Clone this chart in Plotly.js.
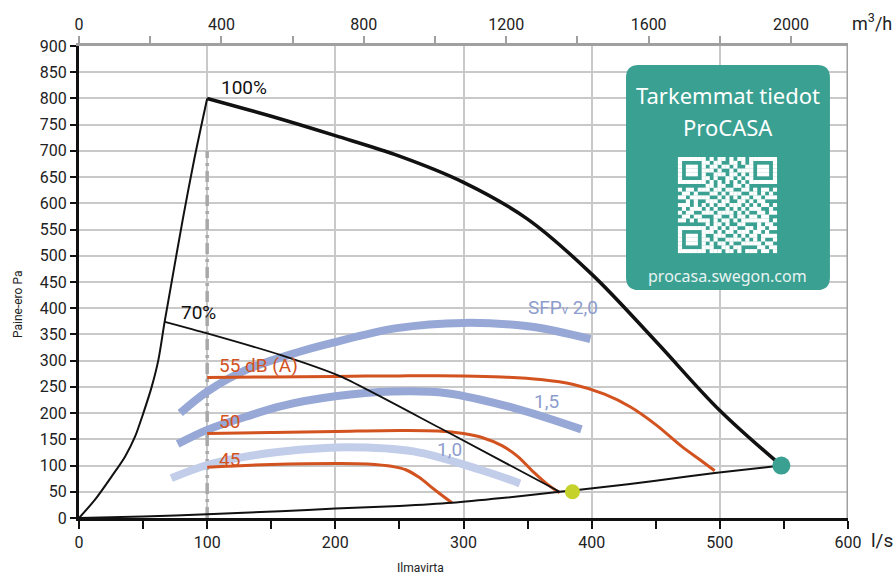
<!DOCTYPE html>
<html>
<head>
<meta charset="utf-8">
<script src="https://cdn.plot.ly/plotly-3.0.1.min.js"></script>
<style>
  html, body { margin: 0; padding: 0; background: #ffffff; }
  #chart { width: 894px; height: 576px; }
</style>
</head>
<body>
<div id="chart"></div>
<script>
// ---- Data, airflow in l/s, pressure in Pa ----
// Fan curve at 100 % (left limit curve + top curve)
const limitLeftX = [0, 12.5, 25.4, 35.9, 43.7, 50.2, 56.7, 61.9, 66.6, 69.7, 81, 90, 100];
const limitLeftY = [0, 35, 79, 117, 155, 200, 250, 301, 371, 414, 570, 685, 800];
const fan100X = [100, 150, 200, 250, 300, 350, 400, 450, 500, 548];
const fan100Y = [800, 766, 729, 690, 640, 570, 465, 337, 205, 100];
// Fan curve at 70 %
const fan70X = [67, 100, 157, 204, 282, 375];
const fan70Y = [374, 352, 311, 270, 171, 50];
// System curve
const systemX = [0, 50, 100, 157, 200, 250, 291, 330, 375, 406, 450, 496, 548];
const systemY = [0, 3, 7, 13, 18, 23, 29, 38, 50, 58, 71, 86, 100];
// Sound level curves, dB(A)
const db55X = [100, 150, 200, 250, 300, 330, 360, 385, 410, 430, 450, 470, 485, 496];
const db55Y = [268, 269, 270, 271, 271, 269, 264, 255, 236, 212, 178, 137, 110, 90];
const db50X = [100, 150, 200, 250, 280, 300, 315, 330, 342, 354, 365, 375];
const db50Y = [161, 163, 165, 167, 166, 161, 153, 138, 118, 89, 65, 48];
const db45X = [100, 150, 200, 225, 245, 255, 265, 278, 291];
const db45Y = [97, 102, 104, 103, 98, 92, 78, 53, 29];
// SFPv curves
const sfp20X = [79, 100, 130, 172, 196, 248, 300, 352, 399];
const sfp20Y = [200, 241, 282, 317, 333, 362, 372, 365, 341];
const sfp15X = [77, 100, 130, 157, 200, 245, 287, 339, 392];
const sfp15Y = [141, 168, 193, 213, 232, 241, 238, 210, 169];
const sfp10X = [72, 100, 130, 172, 209, 261, 313, 344];
const sfp10Y = [76, 101, 117, 130, 135, 127, 92, 66];
// Operating points
const pointMaxX = [548];
const pointMaxY = [100];
const pointOpX = [385];
const pointOpY = [50];
// Nominal reference airflow line
const refLineX = [100, 100];
const refLineY = [0, 700];
// Axis ticks
const lsTicks = [0, 100, 200, 300, 400, 500, 600];
const m3hTicks = [0, 400, 800, 1200, 1600, 2000];
const paTicks = [0, 50, 100, 150, 200, 250, 300, 350, 400, 450, 500, 550, 600, 650, 700, 750, 800, 850, 900];

// Decorative QR-like pattern (1 = light module)
const qrRows = [
  "1111111010110101101111111",
  "1000001101100110101000001",
  "1011101011011010011011101",
  "1011101110100101111011101",
  "1011101001110110101011101",
  "1000001101001101011000001",
  "1111111010101010101111111",
  "0000000110110011010000000",
  "1011011101101100110101101",
  "0110100011010111001101010",
  "1101111100101010110110111",
  "0010100111011001101011000",
  "1110101010110111010101101",
  "0101110101001010101110010",
  "1011001110111101010011011",
  "0110110001100101101101100",
  "1101011101011010111111101",
  "0000000101101001100010110",
  "1111111011010110011011011",
  "1000001110101101110110100",
  "1011101001110010101101111",
  "1011101101001111010101001",
  "1011101010110100111110110",
  "1000001110011011000011011",
  "1111111011101101011101101"
];

const FONT = 'Roboto, "Noto Sans", sans-serif';
const ORANGE = '#d2531f';
const BLUE = '#97a8d6';
const BLUE_LIGHT = '#c2cdea';
const BLUE_TEXT = '#8d9dcd';
const TEAL = '#3aa091';

function line(x, y, color, width, smoothing) {
  return {
    type: 'scatter', mode: 'lines', x: x, y: y,
    line: { color: color, width: width, shape: 'spline', smoothing: smoothing === undefined ? 1 : smoothing },
    hoverinfo: 'skip', showlegend: false
  };
}

const traces = [
  { type: 'scatter', mode: 'lines', x: refLineX, y: refLineY, hoverinfo: 'skip', showlegend: false,
    line: { color: '#a8a8a8', width: 3.5, dash: '11px,5px,3px,5px' } },
  line(sfp20X, sfp20Y, BLUE, 8),
  line(sfp15X, sfp15Y, BLUE, 8),
  line(sfp10X, sfp10Y, BLUE_LIGHT, 8),
  line(db55X, db55Y, ORANGE, 3),
  line(db50X, db50Y, ORANGE, 3),
  line(db45X, db45Y, ORANGE, 3),
  line(limitLeftX, limitLeftY, '#111111', 2, 0.8),
  line(fan100X, fan100Y, '#111111', 3.5, 1),
  line(fan70X, fan70Y, '#111111', 1.8, 0.6),
  line(systemX, systemY, '#111111', 2, 0.6),
  { type: 'scatter', mode: 'markers', x: pointOpX, y: pointOpY,
    marker: { color: '#c4d22b', size: 15 }, hoverinfo: 'skip', showlegend: false },
  { type: 'scatter', mode: 'markers', x: pointMaxX, y: pointMaxY,
    marker: { color: TEAL, size: 18 }, hoverinfo: 'skip', showlegend: false }
];

// rounded info box path in data coordinates
const bx0 = 426.8, bx1 = 585.9, by0 = 434.8, by1 = 863.8, rx = 10, ry = 24;
const boxPath = 'M ' + (bx0 + rx) + ',' + by1 +
  ' L ' + (bx1 - rx) + ',' + by1 + ' Q ' + bx1 + ',' + by1 + ' ' + bx1 + ',' + (by1 - ry) +
  ' L ' + bx1 + ',' + (by0 + ry) + ' Q ' + bx1 + ',' + by0 + ' ' + (bx1 - rx) + ',' + by0 +
  ' L ' + (bx0 + rx) + ',' + by0 + ' Q ' + bx0 + ',' + by0 + ' ' + bx0 + ',' + (by0 + ry) +
  ' L ' + bx0 + ',' + (by1 - ry) + ' Q ' + bx0 + ',' + by1 + ' ' + (bx0 + rx) + ',' + by1 + ' Z';

const shapes = [
  { type: 'line', xref: 'x', yref: 'y', x0: 600, x1: 600, y0: 0, y1: 900,
    line: { color: '#a0a0a0', width: 3 }, layer: 'above' },
  { type: 'path', xref: 'x', yref: 'y', path: boxPath,
    fillcolor: TEAL, line: { width: 0 }, layer: 'above' }
];

// QR-like decoration drawn as small rectangles inside the info box
const qrX0 = 467.3, qrY0 = 688.4, qrW = 77.2, qrH = 183;
const n = qrRows.length, mw = qrW / n, mh = qrH / n;
qrRows.forEach((row, i) => {
  for (let j = 0; j < row.length; j++) {
    if (row[j] === '1') {
      shapes.push({ type: 'rect', xref: 'x', yref: 'y',
        x0: qrX0 + j * mw, x1: qrX0 + (j + 1) * mw + 0.15,
        y0: qrY0 - (i + 1) * mh - 0.3, y1: qrY0 - i * mh,
        fillcolor: '#ffffff', line: { width: 0 }, layer: 'above' });
    }
  }
});

const annFont = (size, color) => ({ family: FONT, size: size, color: color });
const px = (x) => (x - 79) / 769;
const py = (y) => (518 - y) / 472;

const layout = {
  width: 894, height: 576,
  margin: { l: 79, r: 46, t: 46, b: 58 },
  paper_bgcolor: '#ffffff', plot_bgcolor: '#ffffff',
  font: { family: FONT, size: 16, color: '#222222' },
  showlegend: false,
  xaxis: {
    range: [0, 600], tickvals: lsTicks, ticktext: lsTicks.map(String),
    ticks: 'outside', ticklen: 8, tickwidth: 2, tickcolor: '#111111',
    minor: { dtick: 50, tick0: 0, ticks: 'outside', ticklen: 8, tickwidth: 2, tickcolor: '#111111', showgrid: false },
    showgrid: true, gridcolor: '#c9c9c9', gridwidth: 2,
    showline: true, linecolor: '#111111', linewidth: 3, zeroline: false,
    tickfont: { family: FONT, size: 16, color: '#222222' }, fixedrange: true
  },
  xaxis2: {
    overlaying: 'x', side: 'top', anchor: 'y',
    range: [0, 2160], tickvals: m3hTicks, ticktext: m3hTicks.map(String),
    ticks: 'outside', ticklen: 7, tickwidth: 2, tickcolor: '#a0a0a0',
    minor: { dtick: 200, tick0: 0, ticks: 'outside', ticklen: 7, tickwidth: 2, tickcolor: '#a0a0a0', showgrid: false },
    showgrid: false, showline: true, linecolor: '#a0a0a0', linewidth: 3, zeroline: false,
    tickfont: { family: FONT, size: 16, color: '#222222' }, fixedrange: true
  },
  yaxis: {
    range: [0, 900], tickvals: paTicks, ticktext: paTicks.map(String),
    ticks: 'outside', ticklen: 6, tickwidth: 2, tickcolor: '#111111',
    showgrid: true, gridcolor: '#c9c9c9', gridwidth: 2,
    showline: true, linecolor: '#111111', linewidth: 3, zeroline: false,
    tickfont: { family: FONT, size: 16, color: '#222222' }, fixedrange: true
  },
  shapes: shapes,
  annotations: [
    { text: '100%', x: 109, y: 821, xref: 'x', yref: 'y', xanchor: 'left', yanchor: 'middle', showarrow: false, font: annFont(19, '#111111') },
    { text: '70%', x: 78, y: 391, xref: 'x', yref: 'y', xanchor: 'left', yanchor: 'middle', showarrow: false, font: annFont(19, '#111111') },
    { text: '55 dB (A)', x: 108, y: 291, xref: 'x', yref: 'y', xanchor: 'left', yanchor: 'middle', showarrow: false, font: annFont(19, ORANGE) },
    { text: '50', x: 108, y: 184, xref: 'x', yref: 'y', xanchor: 'left', yanchor: 'middle', showarrow: false, font: annFont(19, ORANGE) },
    { text: '45', x: 108, y: 111, xref: 'x', yref: 'y', xanchor: 'left', yanchor: 'middle', showarrow: false, font: annFont(19, ORANGE) },
    { text: 'SFP<span style="font-size:13px">v</span> 2,0', x: 349, y: 402, xref: 'x', yref: 'y', xanchor: 'left', yanchor: 'middle', showarrow: false, font: annFont(19, BLUE_TEXT) },
    { text: '1,5', x: 365, y: 222, xref: 'x', yref: 'y', xanchor: 'center', yanchor: 'middle', showarrow: false, font: annFont(19, BLUE_TEXT) },
    { text: '1,0', x: 289, y: 131, xref: 'x', yref: 'y', xanchor: 'center', yanchor: 'middle', showarrow: false, font: annFont(19, BLUE_TEXT) },
    { text: 'Tarkemmat tiedot', x: 506.3, y: 806, xref: 'x', yref: 'y', xanchor: 'center', yanchor: 'middle', showarrow: false, font: { family: '"Noto Sans", sans-serif', size: 22, color: '#ffffff' } },
    { text: 'ProCASA', x: 506.3, y: 745, xref: 'x', yref: 'y', xanchor: 'center', yanchor: 'middle', showarrow: false, font: { family: '"Noto Sans", sans-serif', size: 22, color: '#ffffff' } },
    { text: 'procasa.swegon.com', x: 506.3, y: 462, xref: 'x', yref: 'y', xanchor: 'center', yanchor: 'middle', showarrow: false, font: { family: '"Noto Sans", sans-serif', size: 16, color: '#e8f3f1' } },
    { text: 'Paine-ero Pa', x: px(18), y: py(305), xref: 'paper', yref: 'paper', textangle: -90, showarrow: false, font: annFont(12, '#222222'), xanchor: 'center', yanchor: 'middle' },
    { text: 'Ilmavirta', x: px(420), y: py(568), xref: 'paper', yref: 'paper', showarrow: false, font: annFont(12, '#222222'), xanchor: 'center', yanchor: 'middle' },
    { text: 'l/s', x: px(882), y: py(540), xref: 'paper', yref: 'paper', showarrow: false, font: annFont(19, '#222222'), xanchor: 'center', yanchor: 'middle' },
    { text: 'm<sup>3</sup>/h', x: px(872), y: py(22), xref: 'paper', yref: 'paper', showarrow: false, font: annFont(18, '#222222'), xanchor: 'center', yanchor: 'middle' }
  ]
};

// companion trace (no points) so the top m3/h axis is drawn
traces.push({ type: 'scatter', mode: 'lines', x: [], y: [], xaxis: 'x2', yaxis: 'y', hoverinfo: 'skip', showlegend: false });

Plotly.newPlot('chart', traces, layout, { displayModeBar: false, staticPlot: true });
</script>
</body>
</html>
